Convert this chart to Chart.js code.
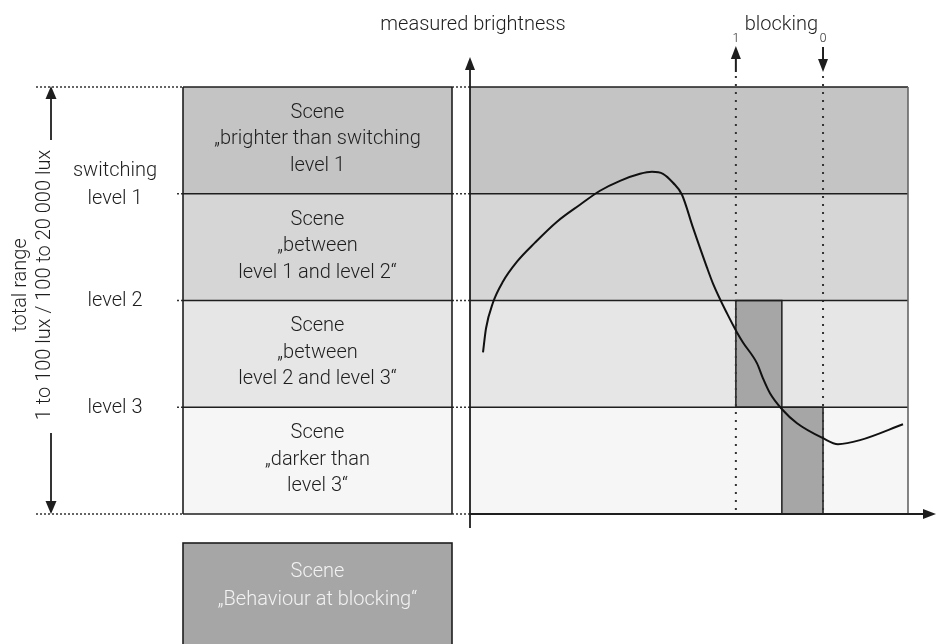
<!DOCTYPE html>
<html>
<head>
<meta charset="utf-8">
<script src="https://cdn.jsdelivr.net/npm/chart.js@4.4.1/dist/chart.umd.min.js"></script>
<style>
    html, body { margin: 0; padding: 0; background: #fff; }
    #wrap { width: 943px; height: 644px; }
</style>
</head>
<body>
<div id="wrap"><canvas id="chart" width="943" height="644"></canvas></div>
<script>
// Helligkeitsstufen, von unten nach oben: 0 = Boden, 1 = level 3, 2 = level 2, 3 = level 1, 4 = Obergrenze
const levelValues = [0, 1, 2, 3, 4];

// Beschriftung der Schwellen links (nudge = kleine Textkorrektur in px)
const levelLabels = [
    { value: 3, lines: ['switching', 'level 1'], nudge: 5 },
    { value: 2, lines: ['level 2'], nudge: 0 },
    { value: 1, lines: ['level 3'], nudge: 1 }
];

// Szenen-Texte, von unten nach oben (gleiche Reihenfolge wie die Baender)
const sceneTexts = [
    ['Scene', '\u201Edarker than', 'level 3\u201C'],
    ['Scene', '\u201Ebetween', 'level 2 and level 3\u201C'],
    ['Scene', '\u201Ebetween', 'level 1 and level 2\u201C'],
    ['Scene', '\u201Ebrighter than switching', 'level 1']
];
const blockingSceneText = ['Scene', '\u201EBehaviour at blocking\u201C'];

// Gemessene Helligkeit ueber die Zeit (x: 0..100, y: Stufen)
const curveX = [2.97, 3.65, 5.25, 7.53, 10.73, 14.84, 19.86, 25.11, 29.68, 34.25, 38.81, 41.55, 44.06,
                46.35, 48.40, 50.91, 54.11, 55.48, 58.68, 60.96, 62.33, 65.53, 66.89, 68.49, 71.23,
                74.66, 80.59, 84.02, 89.04, 98.86];
const curveY = [1.514, 1.738, 1.981, 2.178, 2.364, 2.542, 2.738, 2.897, 3.028, 3.121, 3.187, 3.206, 3.187,
                3.103, 2.991, 2.682, 2.308, 2.159, 1.879, 1.701, 1.607, 1.411, 1.271, 1.131, 0.981,
                0.850, 0.710, 0.654, 0.692, 0.841];

// Sperre: 1 = ein, 0 = aus
const blockingTimes = [60.7, 80.6];
const blockingRects = [
    { x0: 60.7, x1: 71.2, y0: 1, y1: 2 },
    { x0: 71.2, x1: 80.6, y0: 0, y1: 1 }
];

// Farben der Baender (unten nach oben)
const bandColors = ['#f6f6f6', '#e6e6e6', '#d6d6d6', '#c4c4c4'];
const blockColor = '#a6a6a6';
const ink = '#1e1e1e';
const FONT = '"Roboto", "Liberation Sans", Arial, sans-serif';

// Linke Spalte (Pixel)
const BOX_LEFT = 183;
const BOX_RIGHT = 452;
const LABEL_X = 115;

function setFont(ctx, size) {
    ctx.font = `300 ${size}px ${FONT}`;
}

function arrowHead(ctx, x, y, dir, w, h) {
    ctx.beginPath();
    if (dir === 'up') {
        ctx.moveTo(x, y); ctx.lineTo(x - w / 2, y + h); ctx.lineTo(x + w / 2, y + h);
    } else if (dir === 'down') {
        ctx.moveTo(x, y); ctx.lineTo(x - w / 2, y - h); ctx.lineTo(x + w / 2, y - h);
    } else {
        ctx.moveTo(x, y); ctx.lineTo(x - h, y - w / 2); ctx.lineTo(x - h, y + w / 2);
    }
    ctx.closePath();
    ctx.fill();
}

function line(ctx, x1, y1, x2, y2) {
    ctx.beginPath();
    ctx.moveTo(x1, y1);
    ctx.lineTo(x2, y2);
    ctx.stroke();
}

const diagramPlugin = {
    id: 'diagram',
    beforeDatasetsDraw(chart) {
        const { ctx, scales: { x, y } } = chart;
        const xl = x.getPixelForValue(0);
        const xr = x.getPixelForValue(100);
        ctx.save();

        // Baender rechts und Szenenkaesten links
        for (let i = 0; i < levelValues.length - 1; i++) {
            const top = y.getPixelForValue(levelValues[i + 1]);
            const bot = y.getPixelForValue(levelValues[i]);
            ctx.fillStyle = bandColors[i];
            ctx.fillRect(xl, top, xr - xl, bot - top);
            ctx.fillRect(BOX_LEFT, top, BOX_RIGHT - BOX_LEFT, bot - top);
        }

        // Sperr-Kaesten
        ctx.fillStyle = blockColor;
        ctx.strokeStyle = ink;
        ctx.lineWidth = 1.5;
        blockingRects.forEach(r => {
            const px0 = x.getPixelForValue(r.x0);
            const px1 = x.getPixelForValue(r.x1);
            const py0 = y.getPixelForValue(r.y1);
            const py1 = y.getPixelForValue(r.y0);
            ctx.fillRect(px0, py0, px1 - px0, py1 - py0);
            ctx.strokeRect(px0, py0, px1 - px0, py1 - py0);
        });

        // Gestrichelte Hilfslinien horizontal
        ctx.setLineDash([2, 2]);
        ctx.strokeStyle = '#333';
        ctx.lineWidth = 1.5;
        levelValues.forEach(v => {
            const py = y.getPixelForValue(v);
            const start = (v === 0 || v === 4) ? 36 : 177;
            line(ctx, start, py, BOX_LEFT, py);
            line(ctx, BOX_RIGHT, py, xl, py);
        });

        // Sperr-Linien vertikal
        ctx.setLineDash([2, 6]);
        ctx.lineWidth = 2;
        blockingTimes.forEach(t => {
            const px = x.getPixelForValue(t);
            line(ctx, px, 76, px, y.getPixelForValue(0));
        });
        ctx.setLineDash([]);

        // Linien der Baender
        ctx.strokeStyle = ink;
        ctx.lineWidth = 1.6;
        levelValues.forEach(v => {
            const py = y.getPixelForValue(v);
            line(ctx, xl, py, xr, py);
            line(ctx, BOX_LEFT, py, BOX_RIGHT, py);
        });
        const yTop = y.getPixelForValue(4);
        const yBot = y.getPixelForValue(0);
        line(ctx, BOX_LEFT, yTop, BOX_LEFT, yBot);
        line(ctx, BOX_RIGHT, yTop, BOX_RIGHT, yBot);
        ctx.strokeStyle = '#666';
        line(ctx, xr, yTop, xr, yBot);
        ctx.restore();
    },
    afterDatasetsDraw(chart) {
        const { ctx, scales: { x, y } } = chart;
        const xl = x.getPixelForValue(0);
        const xr = x.getPixelForValue(100);
        const yTop = y.getPixelForValue(4);
        const yBot = y.getPixelForValue(0);
        ctx.save();
        ctx.strokeStyle = ink;
        ctx.fillStyle = ink;
        ctx.lineWidth = 1.8;

        // Achsen
        line(ctx, xl, yBot + 14, xl, yTop - 24);
        arrowHead(ctx, xl, yTop - 30, 'up', 10, 13);
        line(ctx, xl, yBot, xr + 18, yBot);
        arrowHead(ctx, xr + 28, yBot, 'right', 10, 13);

        // Pfeile "total range"
        line(ctx, 51, yTop + 8, 51, 140);
        arrowHead(ctx, 51, yTop - 1, 'up', 11, 13);
        line(ctx, 51, 433, 51, yBot - 8);
        arrowHead(ctx, 51, yBot, 'down', 11, 13);

        // Sperr-Pfeile
        const xOn = x.getPixelForValue(blockingTimes[0]);
        const xOff = x.getPixelForValue(blockingTimes[1]);
        ctx.lineWidth = 2;
        line(ctx, xOn, 56, xOn, 72);
        arrowHead(ctx, xOn, 46, 'up', 10, 13);
        line(ctx, xOff, 47, xOff, 62);
        arrowHead(ctx, xOff, 72, 'down', 10, 13);

        // Texte
        ctx.textAlign = 'center';
        ctx.textBaseline = 'middle';
        setFont(ctx, 20);
        ctx.fillText('measured brightness', xl + 3, 25);
        ctx.fillText('blocking', (xOn + xOff) / 2 + 2, 25);
        setFont(ctx, 12);
        ctx.fillText('1', xOn, 39);
        ctx.fillText('0', xOff, 39);

        // Szenen links
        setFont(ctx, 20);
        const cx = (BOX_LEFT + BOX_RIGHT) / 2;
        sceneTexts.forEach((lines, i) => {
            const mid = (y.getPixelForValue(levelValues[i]) + y.getPixelForValue(levelValues[i + 1])) / 2 - 1;
            lines.forEach((t, j) => {
                ctx.fillText(t, cx, mid + (j - (lines.length - 1) / 2) * 26.5);
            });
        });

        // Schwellen-Beschriftung
        levelLabels.forEach(l => {
            const py = y.getPixelForValue(l.value) + l.nudge;
            l.lines.forEach((t, j) => {
                ctx.fillText(t, LABEL_X, py - (l.lines.length - 1 - j) * 28);
            });
        });

        // Gesamtbereich, gedreht
        ctx.save();
        ctx.translate(0, 285);
        ctx.rotate(-Math.PI / 2);
        ctx.fillText('total range', 0, 21);
        ctx.fillText('1 to 100 lux / 100 to 20 000 lux', 0, 45);
        ctx.restore();

        // Kasten "Behaviour at blocking"
        ctx.fillStyle = blockColor;
        ctx.fillRect(BOX_LEFT, 543, BOX_RIGHT - BOX_LEFT, 110);
        ctx.strokeStyle = ink;
        ctx.lineWidth = 1.6;
        ctx.strokeRect(BOX_LEFT, 543, BOX_RIGHT - BOX_LEFT, 110);
        ctx.fillStyle = '#f2f2f2';
        blockingSceneText.forEach((t, j) => {
            ctx.fillText(t, cx, 572 + j * 28);
        });
        ctx.restore();
    }
};

new Chart(document.getElementById('chart'), {
    type: 'scatter',
    data: {
        datasets: [{
            label: 'measured brightness',
            data: curveX.map((v, i) => ({ x: v, y: curveY[i] })),
            showLine: true,
            borderColor: '#111',
            borderWidth: 2,
            pointRadius: 0,
            cubicInterpolationMode: 'monotone',
            fill: false
        }]
    },
    options: {
        responsive: false,
        animation: false,
        devicePixelRatio: 1,
        layout: { padding: { left: 470, right: 35, top: 87, bottom: 130 } },
        scales: {
            x: { type: 'linear', min: 0, max: 100, display: false },
            y: { type: 'linear', min: 0, max: 4, display: false }
        },
        plugins: {
            legend: { display: false },
            tooltip: { enabled: false }
        }
    },
    plugins: [diagramPlugin]
});
</script>
</body>
</html>
